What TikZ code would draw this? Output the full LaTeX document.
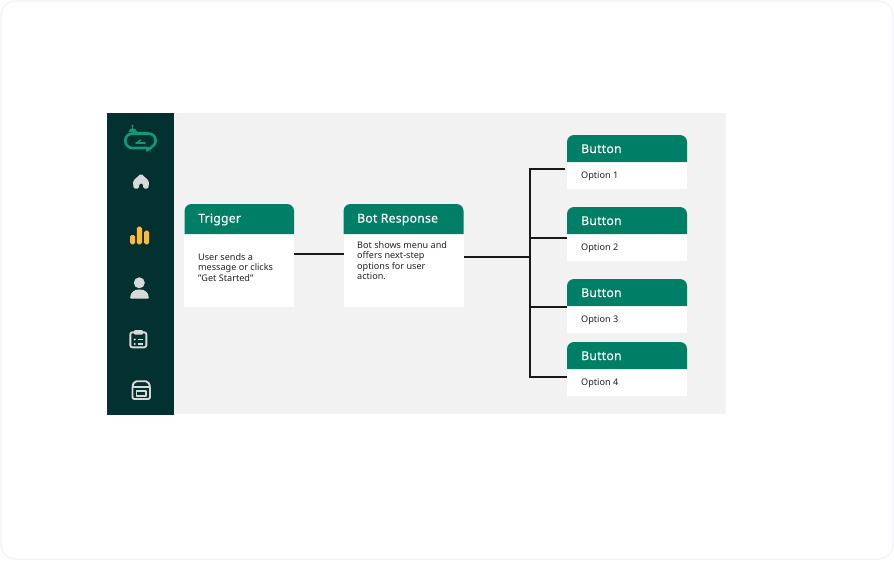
\documentclass[tikz,border=0pt]{standalone}
\usepackage{fontspec}
\setmainfont{Noto Sans}
\definecolor{rail}{HTML}{03312F}
\definecolor{headgreen}{HTML}{007F67}
\definecolor{logogreen}{HTML}{0F9A78}
\definecolor{panelgray}{HTML}{F2F2F2}
\definecolor{icongray}{HTML}{D9D9D9}
\definecolor{baryellow}{HTML}{FFB938}
\definecolor{inktext}{HTML}{222222}
\definecolor{pageedge}{HTML}{F3F5FA}
\tikzset{
  cardbody/.style = {fill = white, inner sep = 0pt, outer sep = 0pt},
  cardhead/.style = {text = white, font = \fontsize{12.2}{14}\selectfont\addfontfeatures{LetterSpace=2,FakeBold=0.25}, anchor = base west, inner sep = 0pt},
  cardtext/.style = {text = inktext, font = \fontsize{9.1}{10.6}\selectfont, anchor = west, align = left, inner sep = 0pt},
  wire/.style = {line width = 1.4pt, black!90},
  iconline/.style = {draw = icongray, line width = 1.9pt, line join = round}
}
\begin{document}
\begin{tikzpicture}[x = 1pt, y = -1pt]
      \useasboundingbox (0,0) rectangle (894,560);
      \draw[pageedge, fill = white, line width = 1.5pt, rounded corners = 14] (1,1) rectangle (893,559);

      % panel and side rail
      \fill[panelgray] (107,113) rectangle (726,414);
      \fill[rail] (107,113) rectangle (174,415);

      % trigger card
      \node[cardbody, minimum width = 110, minimum height = 73] (trigger) at (239.25,270.5) {};
      \fill[headgreen] (184.5,234) [rounded corners = 7] -- (184.5,204) -- (294,204) [sharp corners] -- (294,234) -- cycle;
      \node[cardhead] (triggertitle) at (198,222.5) {Trigger};
      \node[cardtext] (triggertext) at (198,267.5) {User sends a\\message or clicks\\"Get Started"};

      % bot response card
      \node[cardbody, minimum width = 120, minimum height = 73] (bot) at (403.5,270.5) {};
      \fill[headgreen] (343.5,234) [rounded corners = 7] -- (343.5,204) -- (463.5,204) [sharp corners] -- (463.5,234) -- cycle;
      \node[cardhead] (bottitle) at (357,222.5) {Bot Response};
      \node[cardtext] (bottext) at (357,260.5) {Bot shows menu and\\offers next-step\\options for user\\action.};

      % button cards
      \foreach \name/\top/\label in {opta/135/Option 1, optb/207/Option 2, optc/279/Option 3, optd/342/Option 4} {
        \node[cardbody, minimum width = 120, minimum height = 27] (\name) at (627,\top+40.5) {};
        \fill[headgreen] (567,\top+27) [rounded corners = 7] -- (567,\top) -- (687,\top) [sharp corners] -- (687,\top+27) -- cycle;
        \node[cardhead] (\name title) at (581,\top+18) {Button};
        \node[cardtext] (\name text) at (581,\top+41.5) {\label};
      }

      % connectors
      \coordinate (trunka) at (530,169);
      \coordinate (trunkb) at (530,238);
      \coordinate (trunkc) at (530,307);
      \coordinate (trunkd) at (530,377);
      \coordinate (trunkin) at (530,257);
      \coordinate (enda) at (565,169);
      \draw[wire] ([yshift = 16.5pt]trigger.east) -- ([yshift = 16.5pt]bot.west);
      \draw[wire] ([yshift = 13.5pt]bot.east) -- (trunkin);
      \draw[wire] (enda) -- (trunka) -- (trunkd) -- (trunkd -| optd.west);
      \draw[wire] (trunkb) -- (trunkb -| optb.west);
      \draw[wire] (trunkc) -- (trunkc -| optc.west);

      % logo
      \draw[logogreen, line width = 2.6pt] (146,148) -- (133,148) .. controls (128.5,148) and (125.3,145) .. (125.3,140.7) .. controls (125.3,136.5) and (128.5,133.5) .. (133,133.5) -- (148,133.5) .. controls (152.5,133.5) and (155.7,136.5) .. (155.7,140.7) .. controls (155.7,144.5) and (152,147) .. (147,150.5);
      \fill[logogreen] (145.5,146.5) -- (149,147) -- (146.5,152) -- cycle;
      \draw[logogreen, line width = 1.2pt] (132.5,125.5) -- (132.5,130);
      \fill[logogreen] (128.5,132) -- (137.5,132) -- (134.5,128.5) -- (130.5,128.5) -- cycle;
      \fill[logogreen] (132.5,125.8) circle (1.2);
      \draw[logogreen, line width = 1.9pt, line cap = round] (136,142.7) -- (145,142.7);
      \draw[logogreen, line width = 1.5pt, line cap = round] (140.5,140) -- (138,142);

      % home
      \fill[icongray, rounded corners = 1.5] (133,181) -- (141,173.5) -- (149,181) -- (148.5,188.5) -- (143.2,188.5) -- (143.2,183.5) -- (139,183.5) -- (139,188.5) -- (133.5,188.5) -- cycle;

      % bars
      \foreach \xa/\ya in {130/235, 136.8/226.7, 144/230.7}
        \fill[baryellow, rounded corners = 1.6] (\xa,\ya) rectangle (\xa+5.2,244.3);

      % person
      \fill[icongray] (139.3,282.8) circle (5.5);
      \fill[icongray, rounded corners = 1] (130.2,298.7) .. controls (130.2,292) and (135,289.5) .. (139.5,289.5) .. controls (144,289.5) and (148.8,292) .. (148.8,298.7) -- cycle;

      % clipboard
      \draw[iconline, rounded corners = 2] (135,332.3) -- (130.3,332.3) -- (130.3,347.3) -- (146.3,347.3) -- (146.3,332.3) -- (142,332.3);
      \fill[icongray, rounded corners = 1] (134,330) rectangle (143,334.5);
      \foreach \ya in {339.5,344} {
        \fill[icongray] (134.7,\ya) circle (1.1);
        \draw[icongray, line width = 1.5pt] (137.5,\ya) -- (143,\ya);
      }

      % box
      \draw[iconline, rounded corners = 2] (132.5,386.5) -- (132.5,399) -- (150,399) -- (150,386.5);
      \draw[iconline, rounded corners = 2] (132,387) -- (134.5,381.2) -- (147.8,381.2) -- (150.5,387) -- cycle;
      \draw[iconline] (136.5,391) rectangle (146,396);
    \end{tikzpicture}
\end{document}
